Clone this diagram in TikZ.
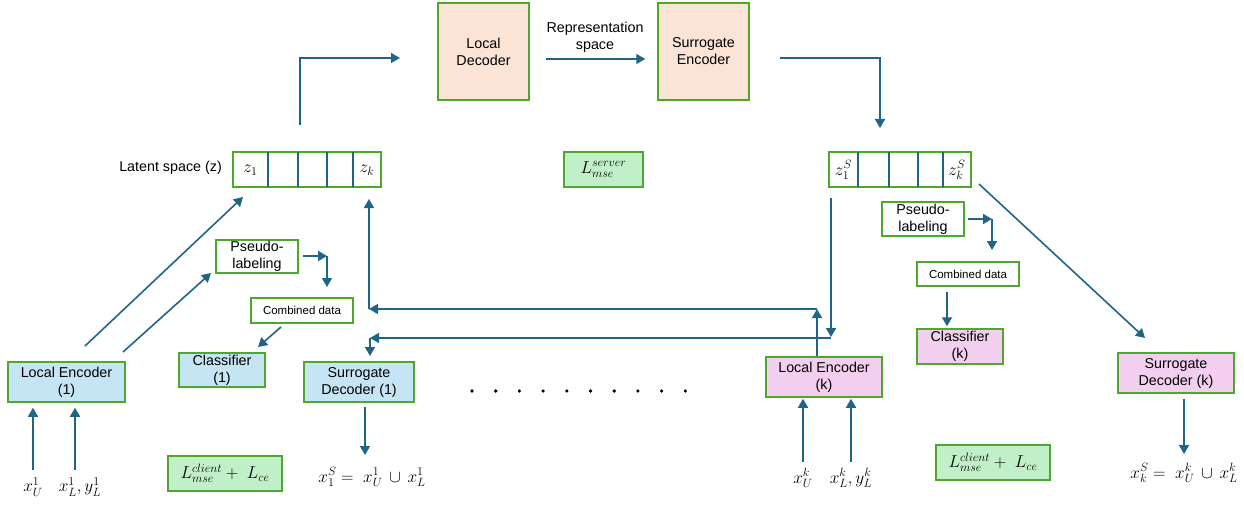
\documentclass[tikz,border=0pt]{standalone}
\usepackage{fontspec}
\setmainfont{Liberation Sans}
\usetikzlibrary{arrows.meta}
\definecolor{bgreen}{HTML}{4EA72E}
\definecolor{arrc}{HTML}{1F6587}
\definecolor{fblue}{HTML}{C5E5F4}
\definecolor{fpink}{HTML}{F2CFEE}
\definecolor{fpeach}{HTML}{FBE3D6}
\definecolor{fgreen}{HTML}{C1F0C8}
\newcommand{\msz}{\fontsize{14.3}{17}\selectfont}
\newcommand{\ssz}{\fontsize{11.5}{13}\selectfont}
\newcommand{\mathsz}{\fontsize{17}{20}\selectfont}
\tikzset{
  box/.style={draw=bgreen, line width=1.5pt, inner sep=0pt, align=center, font=\msz},
  arr/.style={draw=arrc, line width=1.6pt, -{Triangle[length=9pt,width=10pt]}},
  lbl/.style={inner sep=0pt, align=center, font=\msz},
  mlbl/.style={inner sep=0pt, font=\mathsz},
  divider/.style={draw=arrc, line width=1.5pt}
}
\begin{document}
\begin{tikzpicture}[x=1pt,y=-1pt]
\useasboundingbox (0,0) rectangle (1244,505);
% server side
\node[box, fill=fpeach, minimum width=91pt, minimum height=97pt] (LD) at (483.5,51.5) {Local\\Decoder};
\node[box, fill=fpeach, minimum width=91pt, minimum height=97pt] (SE) at (703.5,51.5) {Surrogate\\Encoder};
\node[lbl] (rep) at (595,37) {Representation\\space};
% latent boxes
\node[box, fill=white, minimum width=148pt, minimum height=35pt] (lat1) at (307,169.5) {};
\foreach \xx in {268,298,327,353} \draw[divider] (\xx,152) -- (\xx,187);
\node[mlbl] (z1) at (250.5,170) {$z_1$};
\node[mlbl] (zk) at (367,170) {$z_k$};
\node[lbl, anchor=east] (latl) at (222,168) {Latent space (z)};
\node[box, fill=white, minimum width=142pt, minimum height=35pt] (latS) at (900,169.5) {};
\foreach \xx in {858,889,918,943} \draw[divider] (\xx,152) -- (\xx,187);
\node[mlbl] (zS1) at (843.5,170) {$z_1^S$};
\node[mlbl] (zSk) at (957,170) {$z_k^S$};
\node[box, fill=fgreen, minimum width=79pt, minimum height=35pt, font=\mathsz] (lsrv) at (603.5,169.5) {$L_{mse}^{server}$};
% client 1
\node[box, fill=fblue, minimum width=117pt, minimum height=40pt] (LE1) at (66.5,382) {Local Encoder\\(1)};
\node[box, fill=fblue, minimum width=86pt, minimum height=34pt] (C1) at (222,370) {Classifier\\(1)};
\node[box, fill=fblue, minimum width=110pt, minimum height=40pt] (SD1) at (359,382) {Surrogate\\Decoder (1)};
\node[box, fill=white, minimum width=82pt, minimum height=33pt] (PL1) at (257,256.5) {Pseudo-\\labeling};
\node[box, fill=white, minimum width=102pt, minimum height=25pt, font=\ssz] (CD1) at (302,310.5) {Combined data};
\node[box, fill=fgreen, minimum width=114pt, minimum height=35pt, font=\mathsz] (LC1) at (225,473.5) {$L_{mse}^{client} +\ L_{ce}$};
\node[mlbl] (xU1) at (33,487) {$x_U^1$};
\node[mlbl] (xL1) at (80,487) {$x_L^1, y_L^1$};
\node[mlbl] (xS1) at (372,477) {$x_1^S =\ x_U^1 \,\cup\, x_L^1$};
% client k
\node[box, fill=fpink, minimum width=116pt, minimum height=40pt] (LEk) at (824,377) {Local Encoder\\(k)};
\node[box, fill=fpink, minimum width=86pt, minimum height=35pt] (Ck) at (960,346.5) {Classifier\\(k)};
\node[box, fill=white, minimum width=102pt, minimum height=24pt, font=\ssz] (CDk) at (968,274) {Combined data};
\node[box, fill=white, minimum width=82pt, minimum height=34pt] (PLk) at (923,219) {Pseudo-\\labeling};
\node[box, fill=fpink, minimum width=116pt, minimum height=40pt] (SDk) at (1176,373) {Surrogate\\Decoder (k)};
\node[box, fill=fgreen, minimum width=114pt, minimum height=35pt, font=\mathsz] (LCk) at (993,462.5) {$L_{mse}^{client} +\ L_{ce}$};
\node[mlbl] (xUk) at (803,478) {$x_U^k$};
\node[mlbl] (xLk) at (851,478) {$x_L^k, y_L^k$};
\node[mlbl] (xSk) at (1184,473) {$x_k^S =\ x_U^k \,\cup\, x_L^k$};
% dots
\foreach \i in {0,...,9} \fill (472+23.7*\i,391) circle (1.8pt);
% coordinates
\coordinate (a1) at (300,125);
\coordinate (a2) at (400,58);
\coordinate (b1) at (780,58);
\coordinate (b2) at (880,128);
\coordinate (d1s) at (85,346);
\coordinate (d1e) at (243,197);
\coordinate (d2s) at (123,352);
\coordinate (d2e) at (211,273);
\coordinate (p1a) at (303,256);
\coordinate (p1b) at (327,256);
\coordinate (p1c) at (327,287);
\coordinate (c1a) at (281,327);
\coordinate (c1b) at (258,347);
\coordinate (u1) at (817,309);
\coordinate (u2) at (369,309);
\coordinate (u3) at (369,199);
\coordinate (v1) at (831,198);
\coordinate (v2) at (831,337);
\coordinate (v3) at (370,338);
\coordinate (v4) at (370,356);
\coordinate (pka) at (968,219);
\coordinate (pkb) at (992,219);
\coordinate (pkc) at (992,250);
\coordinate (dks) at (979,184);
\coordinate (dke) at (1145,338);
\coordinate (in1a) at (33,470);
\coordinate (in1b) at (75,470);
\coordinate (sd1e) at (365,455);
\coordinate (sdke) at (1184,454);
\coordinate (inka) at (803,462);
\coordinate (inkb) at (851,462);
% connectors
\draw[arr] (a1) |- (a2);
\draw[arr] ([xshift=16pt,yshift=-7.5pt]LD.east) -- ([xshift=-12pt,yshift=-7.5pt]SE.west);
\draw[arr] (b1) -| (b2);
\draw[arr] (d1s) -- (d1e);
\draw[arr] (d2s) -- (d2e);
\draw[arr] (p1a) -- (p1b);
\draw[arr] (p1b) -- (p1c);
\draw[arr] (c1a) -- (c1b);
\draw[arr] (LEk.north -| u1) -- (u1);
\draw[arr] (u1) -- (u2);
\draw[arr] (u2) -- (u3);
\draw[arr] (v1) -- (v2);
\draw[arr] (v2 |- v3) -- (v3);
\draw[arr] (v3) -- (v4);
\draw[arr] (in1a) -- ([yshift=-5pt]LE1.south -| in1a);
\draw[arr] (in1b) -- ([yshift=-5pt]LE1.south -| in1b);
\draw[arr] ([yshift=-4pt]SD1.south -| sd1e) -- (sd1e);
\draw[arr] (pka) -- (pkb);
\draw[arr] (pkb) -- (pkc);
\draw[arr] ([yshift=-5pt]CDk.south -| 947,0) -- ([yshift=2pt]Ck.north -| 947,0);
\draw[arr] (dks) -- (dke);
\draw[arr] ([yshift=-5pt]SDk.south -| sdke) -- (sdke);
\draw[arr] (inka) -- ([yshift=-1pt]LEk.south -| inka);
\draw[arr] (inkb) -- ([yshift=-1pt]LEk.south -| inkb);
\end{tikzpicture}
\end{document}
